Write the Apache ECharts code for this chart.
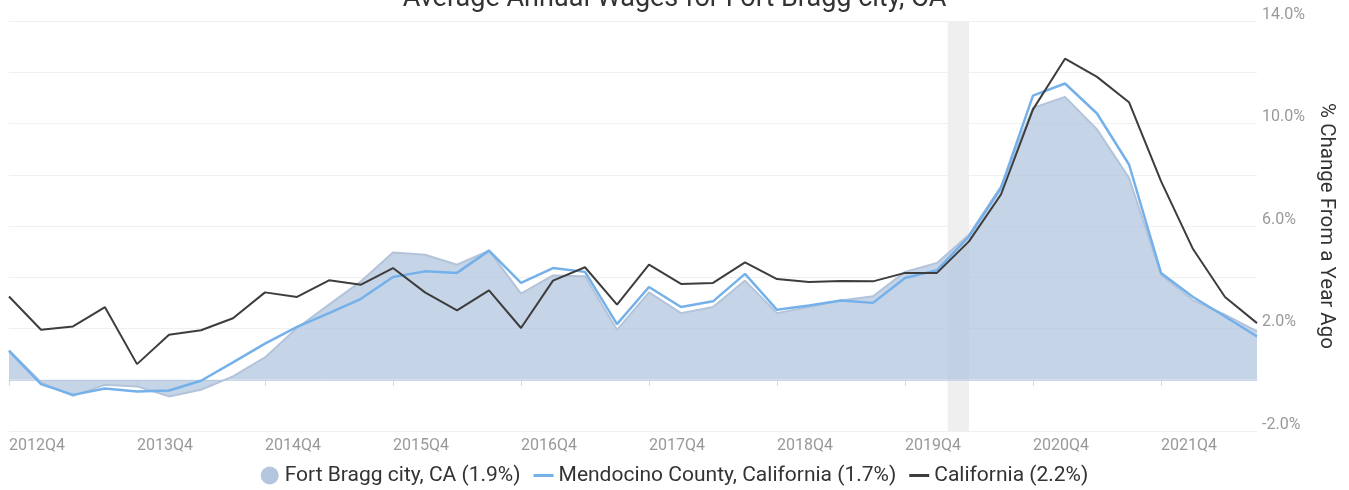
<!DOCTYPE html>
<html>
<head>
<meta charset="utf-8">
<script src="https://cdn.jsdelivr.net/npm/echarts@6/dist/echarts.min.js"></script>
<style>
html,body{margin:0;padding:0;background:#fff;}
#chart{width:1349px;height:490px;}
</style>
</head>
<body>
<div id="chart"></div>
<script>
const titleText = 'Average Annual Wages for Fort Bragg city, CA';
const yAxisName = '% Change From a Year Ago';

const categories = [
  '2012Q4','2013Q1','2013Q2','2013Q3','2013Q4','2014Q1','2014Q2','2014Q3',
  '2014Q4','2015Q1','2015Q2','2015Q3','2015Q4','2016Q1','2016Q2','2016Q3',
  '2016Q4','2017Q1','2017Q2','2017Q3','2017Q4','2018Q1','2018Q2','2018Q3',
  '2018Q4','2019Q1','2019Q2','2019Q3','2019Q4','2020Q1','2020Q2','2020Q3',
  '2020Q4','2021Q1','2021Q2','2021Q3','2021Q4','2022Q1','2022Q2','2022Q3'
];

const fortBraggName = 'Fort Bragg city, CA (1.9%)';
const fortBragg = [1.15, -0.10, -0.63, -0.20, -0.26, -0.65, -0.39, 0.13, 0.87, 2.02,
  2.93, 3.84, 4.97, 4.88, 4.49, 5.04, 3.36, 4.07, 4.04, 1.95,
  3.41, 2.60, 2.84, 3.87, 2.60, 2.84, 3.09, 3.26, 4.21, 4.56,
  5.66, 7.55, 10.61, 11.04, 9.77, 7.88, 4.10, 3.10, 2.54, 1.89];

const mendocinoName = 'Mendocino County, California (1.7%)';
const mendocino = [1.13, -0.17, -0.59, -0.34, -0.46, -0.42, -0.04, 0.68, 1.41, 2.06,
  2.60, 3.16, 4.01, 4.23, 4.17, 5.04, 3.78, 4.36, 4.21, 2.17,
  3.62, 2.84, 3.06, 4.13, 2.73, 2.90, 3.09, 3.00, 3.97, 4.27,
  5.60, 7.49, 11.09, 11.56, 10.39, 8.40, 4.17, 3.23, 2.47, 1.69];

const californiaName = 'California (2.2%)';
const california = [3.25, 1.95, 2.08, 2.83, 0.61, 1.76, 1.93, 2.40, 3.41, 3.23,
  3.88, 3.71, 4.36, 3.41, 2.71, 3.49, 2.02, 3.87, 4.39, 2.93,
  4.49, 3.74, 3.78, 4.58, 3.93, 3.81, 3.85, 3.84, 4.17, 4.17,
  5.40, 7.23, 10.55, 12.53, 11.82, 10.83, 7.75, 5.10, 3.23, 2.21];

// recession periods (year-month), first category 2012Q4 starts 2012-10
const recessions = [['2020-02', '2020-04']];
const yMin = -2, yMax = 14, yStep = 2;

function monthToIndex(ym) {
  const [y, m] = ym.split('-').map(Number);
  return ((y - 2012) * 12 + (m - 10)) / 3;
}
const recessionSpans = recessions.map(r => [monthToIndex(r[0]), monthToIndex(r[1])]);

const lineIcon = 'path://M0,0L20,0L20,3L0,3Z';

const chart = echarts.init(document.getElementById('chart'), null, {renderer: 'canvas'});
const option = {
  animation: false,
  textStyle: {fontFamily: 'Roboto'},
  title: {
    text: titleText, left: 'center', top: -19,
    textStyle: {fontSize: 27, fontWeight: 'normal', color: '#333', fontFamily: 'Roboto'}
  },
  grid: {left: 9, right: 92, top: 21, bottom: 59},
  legend: {
    top: 460, left: 'center',
    itemWidth: 20, itemHeight: 18, itemGap: 13,
    symbolKeepAspect: true,
    textStyle: {fontSize: 21, color: '#333', fontFamily: 'Roboto'},
    data: [
      {name: fortBraggName, icon: 'circle'},
      {name: mendocinoName, icon: lineIcon},
      {name: californiaName, icon: lineIcon}
    ]
  },
  xAxis: [{
    type: 'category', data: categories, boundaryGap: false,
    axisLine: {lineStyle: {color: '#ccd6eb', width: 1}},
    axisTick: {interval: 3, length: 6, lineStyle: {color: '#ccd6eb'}},
    axisLabel: {interval: 3, align: 'left', color: '#999', fontSize: 16, margin: 7, fontFamily: 'Roboto'},
    splitLine: {show: false}
  }, {
    type: 'value', min: 0, max: categories.length - 1, show: false
  }],
  yAxis: {
    type: 'value', position: 'right', min: yMin, max: yMax, interval: yStep,
    axisLine: {show: false}, axisTick: {show: false},
    axisLabel: {
      color: '#999', fontSize: 16, margin: 5, verticalAlign: 'bottom', lineHeight: 13,
      fontFamily: 'Roboto',
      formatter: v => ((v - yMin) % (2 * yStep) === 0 ? v.toFixed(1) + '%' : '')
    },
    splitLine: {lineStyle: {color: '#f0f0f0', width: 1}},
    name: yAxisName, nameLocation: 'middle', nameRotate: -90, nameGap: 52,
    nameTextStyle: {fontSize: 20.5, color: '#333', fontFamily: 'Roboto'}
  },
  series: [
    {
      type: 'custom', name: 'recession', xAxisIndex: 1, yAxisIndex: 0, silent: true, z: 0,
      encode: {x: [0, 1]},
      data: recessionSpans,
      renderItem: (params, api) => {
        const s = api.coord([api.value(0), yMax]);
        const e = api.coord([api.value(1), yMin]);
        return {type: 'rect', shape: {x: s[0], y: s[1], width: e[0] - s[0], height: e[1] - s[1]}, style: {fill: '#efefef'}};
      }
    },
    {
      type: 'line', name: fortBraggName, data: fortBragg, symbol: 'none', z: 2,
      itemStyle: {color: '#b3c6dd'},
      lineStyle: {color: '#b3c4da', width: 2},
      areaStyle: {color: '#b0c4de', opacity: 0.72}
    },
    {
      type: 'line', name: mendocinoName, data: mendocino, symbol: 'none', z: 3,
      itemStyle: {color: '#74b1ea'},
      lineStyle: {color: '#74b1ea', width: 2.5}
    },
    {
      type: 'line', name: californiaName, data: california, symbol: 'none', z: 4,
      itemStyle: {color: '#3d3d3d'},
      lineStyle: {color: '#3d3d3d', width: 2}
    }
  ]
};
chart.setOption(option);
</script>
</body>
</html>
